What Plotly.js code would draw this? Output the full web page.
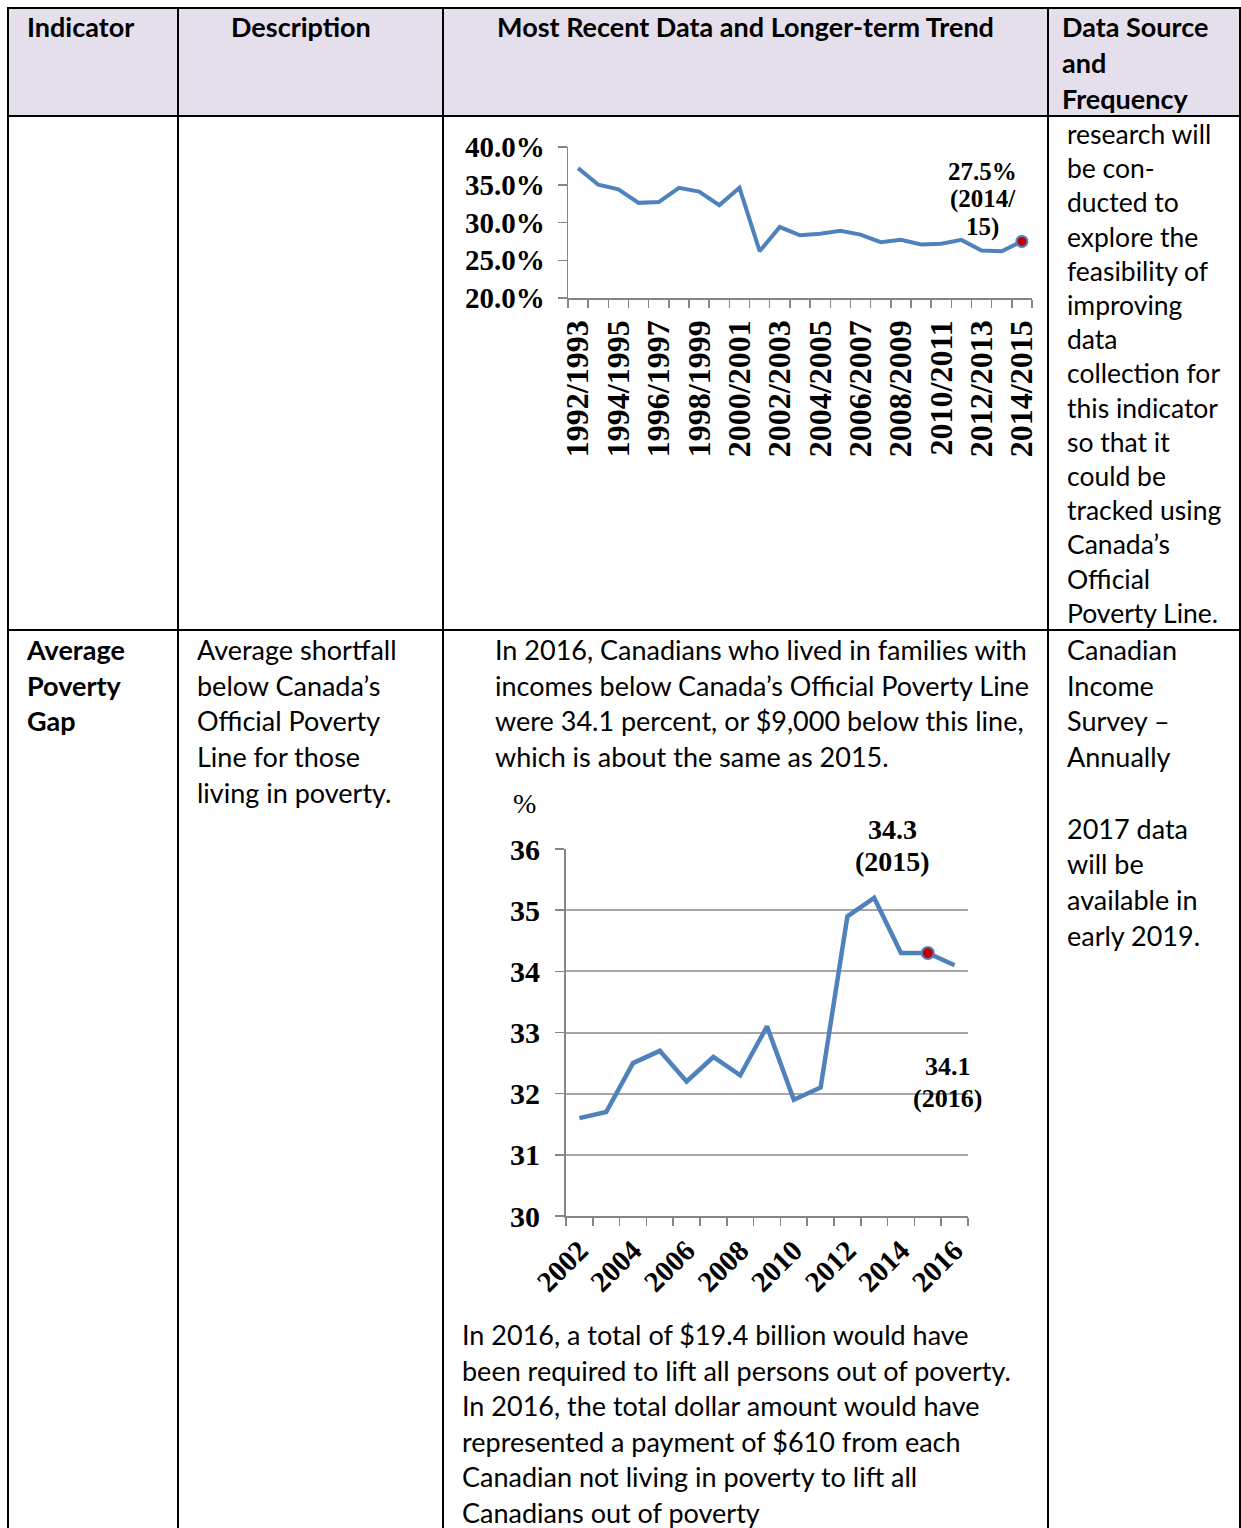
<!DOCTYPE html>
<html>
<head>
<meta charset="utf-8">
<script src="https://cdn.plot.ly/plotly-3.0.1.min.js"></script>
<style>
  body { margin: 0; background: #fff; }
  #page { position: relative; width: 1241px; height: 1528px; overflow: hidden; background: #fff; }
  .hl { position: absolute; height: 2px; background: #000; }
  .vl { position: absolute; width: 2px; background: #000; }
  .t { position: absolute; font-family: "Lato", "Liberation Sans", sans-serif; font-size: 27px; color: #000; white-space: nowrap; }
  .b { font-weight: bold; }
  .chart { position: absolute; }
</style>
</head>
<body>
<div id="page">
  <div style="position:absolute;left:8px;top:8px;width:1232px;height:108px;background:#e5dfec;"></div>

  <div class="hl" style="left:7px;top:7px;width:1234px;"></div>
  <div class="hl" style="left:7px;top:115px;width:1234px;"></div>
  <div class="hl" style="left:7px;top:629px;width:1234px;"></div>
  <div class="vl" style="left:7px;top:7px;height:1521px;"></div>
  <div class="vl" style="left:177px;top:7px;height:1521px;"></div>
  <div class="vl" style="left:442px;top:7px;height:1521px;"></div>
  <div class="vl" style="left:1047px;top:7px;height:1521px;"></div>
  <div class="vl" style="left:1239px;top:7px;height:1521px;"></div>

  <!-- header -->
  <div class="t b" style="left:27px;top:9px;line-height:36px;">Indicator</div>
  <div class="t b" style="left:231px;top:9px;line-height:36px;">Description</div>
  <div class="t b" style="left:443px;width:605px;text-align:center;top:9px;line-height:36px;">Most Recent Data and Longer-term Trend</div>
  <div class="t b" style="left:1062px;top:9px;line-height:36px;">Data Source<br>and<br>Frequency</div>

  <!-- row 1 -->
  <div class="t" style="left:1067px;top:117px;line-height:34.2px;font-size:26.5px;">research will<br>be con-<br>ducted to<br>explore the<br>feasibility of<br>improving<br>data<br>collection for<br>this indicator<br>so that it<br>could be<br>tracked using<br>Canada’s<br>Official<br>Poverty Line.</div>

  <!-- row 2 -->
  <div class="t b" style="left:27px;top:632px;line-height:35.7px;">Average<br>Poverty<br>Gap</div>
  <div class="t" style="left:197px;top:632px;line-height:35.7px;">Average shortfall<br>below Canada’s<br>Official Poverty<br>Line for those<br>living in poverty.</div>
  <div class="t" style="left:495px;top:632px;line-height:35.7px;">In 2016, Canadians who lived in families with<br>incomes below Canada’s Official Poverty Line<br>were 34.1 percent, or $9,000 below this line,<br>which is about the same as 2015.</div>
  <div class="t" style="left:1067px;top:632px;line-height:35.7px;">Canadian<br>Income<br>Survey –<br>Annually<br>&nbsp;<br>2017 data<br>will be<br>available in<br>early 2019.</div>
  <div class="t" style="left:462px;top:1317px;line-height:35.6px;">In 2016, a total of $19.4 billion would have<br>been required to lift all persons out of poverty.<br>In 2016, the total dollar amount would have<br>represented a payment of $610 from each<br>Canadian not living in poverty to lift all<br>Canadians out of poverty</div>

  <div id="chart1" class="chart" style="left:443px;top:118px;width:605px;height:350px;"></div>
  <div id="chart2" class="chart" style="left:443px;top:780px;width:605px;height:530px;"></div>
</div>

<script>
// chart 1 - longer-term trend (percent)
const trendYears = ['1992/1993', '1993/1994', '1994/1995', '1995/1996', '1996/1997', '1997/1998',
  '1998/1999', '1999/2000', '2000/2001', '2001/2002', '2002/2003', '2003/2004', '2004/2005',
  '2005/2006', '2006/2007', '2007/2008', '2008/2009', '2009/2010', '2010/2011', '2011/2012',
  '2012/2013', '2013/2014', '2014/2015'];
const trendLabels = ['1992/1993', '', '1994/1995', '', '1996/1997', '', '1998/1999', '', '2000/2001', '',
  '2002/2003', '', '2004/2005', '', '2006/2007', '', '2008/2009', '', '2010/2011', '', '2012/2013', '',
  '2014/2015'];
const trendValues = [37.2, 35.0, 34.4, 32.6, 32.7, 34.6, 34.1, 32.3, 34.6, 26.2, 29.4, 28.3, 28.5,
  28.9, 28.4, 27.4, 27.7, 27.1, 27.2, 27.7, 26.3, 26.2, 27.5];
const trendTicks = [20, 25, 30, 35, 40];
const trendNote = ['27.5%', '(2014/', '15)'];

// chart 2 - average poverty gap (percent)
const gapYears = ['2002', '2003', '2004', '2005', '2006', '2007', '2008', '2009', '2010', '2011',
  '2012', '2013', '2014', '2015', '2016'];
const gapLabels = ['2002', '', '2004', '', '2006', '', '2008', '', '2010', '', '2012', '', '2014', '', '2016'];
const gapValues = [31.6, 31.7, 32.5, 32.7, 32.2, 32.6, 32.3, 33.1, 31.9, 32.1, 34.9, 35.2, 34.3, 34.3, 34.1];
const gapHighlight = '2015';
const gapNote2015 = ['34.3', '(2015)'];
const gapNote2016 = ['34.1', '(2016)'];

const blue = '#4f81bd';
const red = '#c00000';
const axisGrey = '#868686';
const serif = 'Liberation Serif, Times New Roman, serif';

const config = { staticPlot: true, displayModeBar: false };

// one annotation per text line, centred on (x, y) in paper coords
function noteLines(lines, x, ys, size) {
    return lines.map((txt, i) => ({
        xref: 'paper', yref: 'paper',
        x: x, y: ys[i],
        xanchor: 'center', yanchor: 'middle',
        text: txt,
        showarrow: false,
        font: { family: serif, size: size, weight: 'bold', color: '#000' }
    }));
}

// top chart
const last = trendYears.length - 1;
const t1 = {
    x: trendYears,
    y: trendValues,
    type: 'scatter',
    mode: 'lines',
    line: { color: blue, width: 4 },
    hoverinfo: 'skip'
};
const t1dot = {
    x: [trendYears[last]],
    y: [trendValues[last]],
    type: 'scatter',
    mode: 'markers',
    marker: { color: red, size: 11, line: { color: blue, width: 2 } }
};

const layout1 = {
    width: 605,
    height: 350,
    margin: { l: 125, r: 16, t: 29, b: 170 },
    paper_bgcolor: 'rgba(0,0,0,0)',
    plot_bgcolor: 'rgba(0,0,0,0)',
    showlegend: false,
    xaxis: {
        type: 'category',
        tickmode: 'array',
        tickvals: trendYears,
        ticktext: trendLabels,
        tickson: 'boundaries',
        ticks: 'outside',
        ticklen: 8,
        tickwidth: 1.5,
        tickcolor: axisGrey,
        tickangle: -90,
        ticklabelstandoff: 8,
        tickfont: { family: serif, size: 32, weight: 'bold', color: '#000' },
        showline: true,
        linecolor: axisGrey,
        linewidth: 1.5,
        showgrid: false,
        zeroline: false,
        range: [-0.5, trendYears.length - 0.5]
    },
    yaxis: {
        range: [20, 40],
        tickmode: 'array',
        tickvals: trendTicks,
        ticktext: trendTicks.map(v => v.toFixed(1) + '%'),
        ticks: 'outside',
        ticklen: 9,
        tickwidth: 1.5,
        tickcolor: axisGrey,
        ticklabelstandoff: 7,
        tickfont: { family: serif, size: 29, weight: 'bold', color: '#000' },
        showline: true,
        linecolor: axisGrey,
        linewidth: 1.5,
        showgrid: false,
        zeroline: false
    },
    annotations: noteLines(trendNote, 0.894, [0.841, 0.656, 0.470], 25)
};

Plotly.newPlot('chart1', [t1, t1dot], layout1, config);

// bottom chart
const t2 = {
    x: gapYears,
    y: gapValues,
    type: 'scatter',
    mode: 'lines',
    line: { color: blue, width: 4.5 },
    hoverinfo: 'skip'
};
const hi = gapYears.indexOf(gapHighlight);
const t2dot = {
    x: [gapYears[hi]],
    y: [gapValues[hi]],
    type: 'scatter',
    mode: 'markers',
    marker: { color: red, size: 12, line: { color: blue, width: 2 } }
};

const layout2 = {
    width: 605,
    height: 530,
    margin: { l: 123, r: 80, t: 69, b: 94 },
    paper_bgcolor: 'rgba(0,0,0,0)',
    plot_bgcolor: 'rgba(0,0,0,0)',
    showlegend: false,
    xaxis: {
        type: 'category',
        tickmode: 'array',
        tickvals: gapYears,
        ticktext: gapLabels,
        tickson: 'boundaries',
        ticks: 'outside',
        ticklen: 8,
        tickwidth: 1.5,
        tickcolor: axisGrey,
        tickangle: -45,
        ticklabelstandoff: 4,
        tickfont: { family: serif, size: 29, weight: 'bold', color: '#000' },
        showline: true,
        linecolor: axisGrey,
        linewidth: 2,
        showgrid: false,
        zeroline: false,
        range: [-0.5, gapYears.length - 0.5]
    },
    yaxis: {
        range: [30, 36],
        dtick: 1,
        ticks: 'outside',
        ticklen: 9,
        tickwidth: 1.5,
        tickcolor: axisGrey,
        ticklabelstandoff: 9,
        tickfont: { family: serif, size: 30, weight: 'bold', color: '#000' },
        showline: true,
        linecolor: axisGrey,
        linewidth: 2,
        showgrid: true,
        gridcolor: '#a6a6a6',
        gridwidth: 2,
        zeroline: false
    },
    annotations: [{
        xref: 'paper', yref: 'paper',
        x: -0.102, y: 1.125,
        xanchor: 'center', yanchor: 'middle',
        text: '%',
        showarrow: false,
        font: { family: serif, size: 28, color: '#000' }
    }].concat(
        noteLines(gapNote2015, 0.811, [1.052, 0.965], 28),
        noteLines(gapNote2016, 0.950, [0.407, 0.321], 26)
    )
};

Plotly.newPlot('chart2', [t2, t2dot], layout2, config);
</script>
</body>
</html>
